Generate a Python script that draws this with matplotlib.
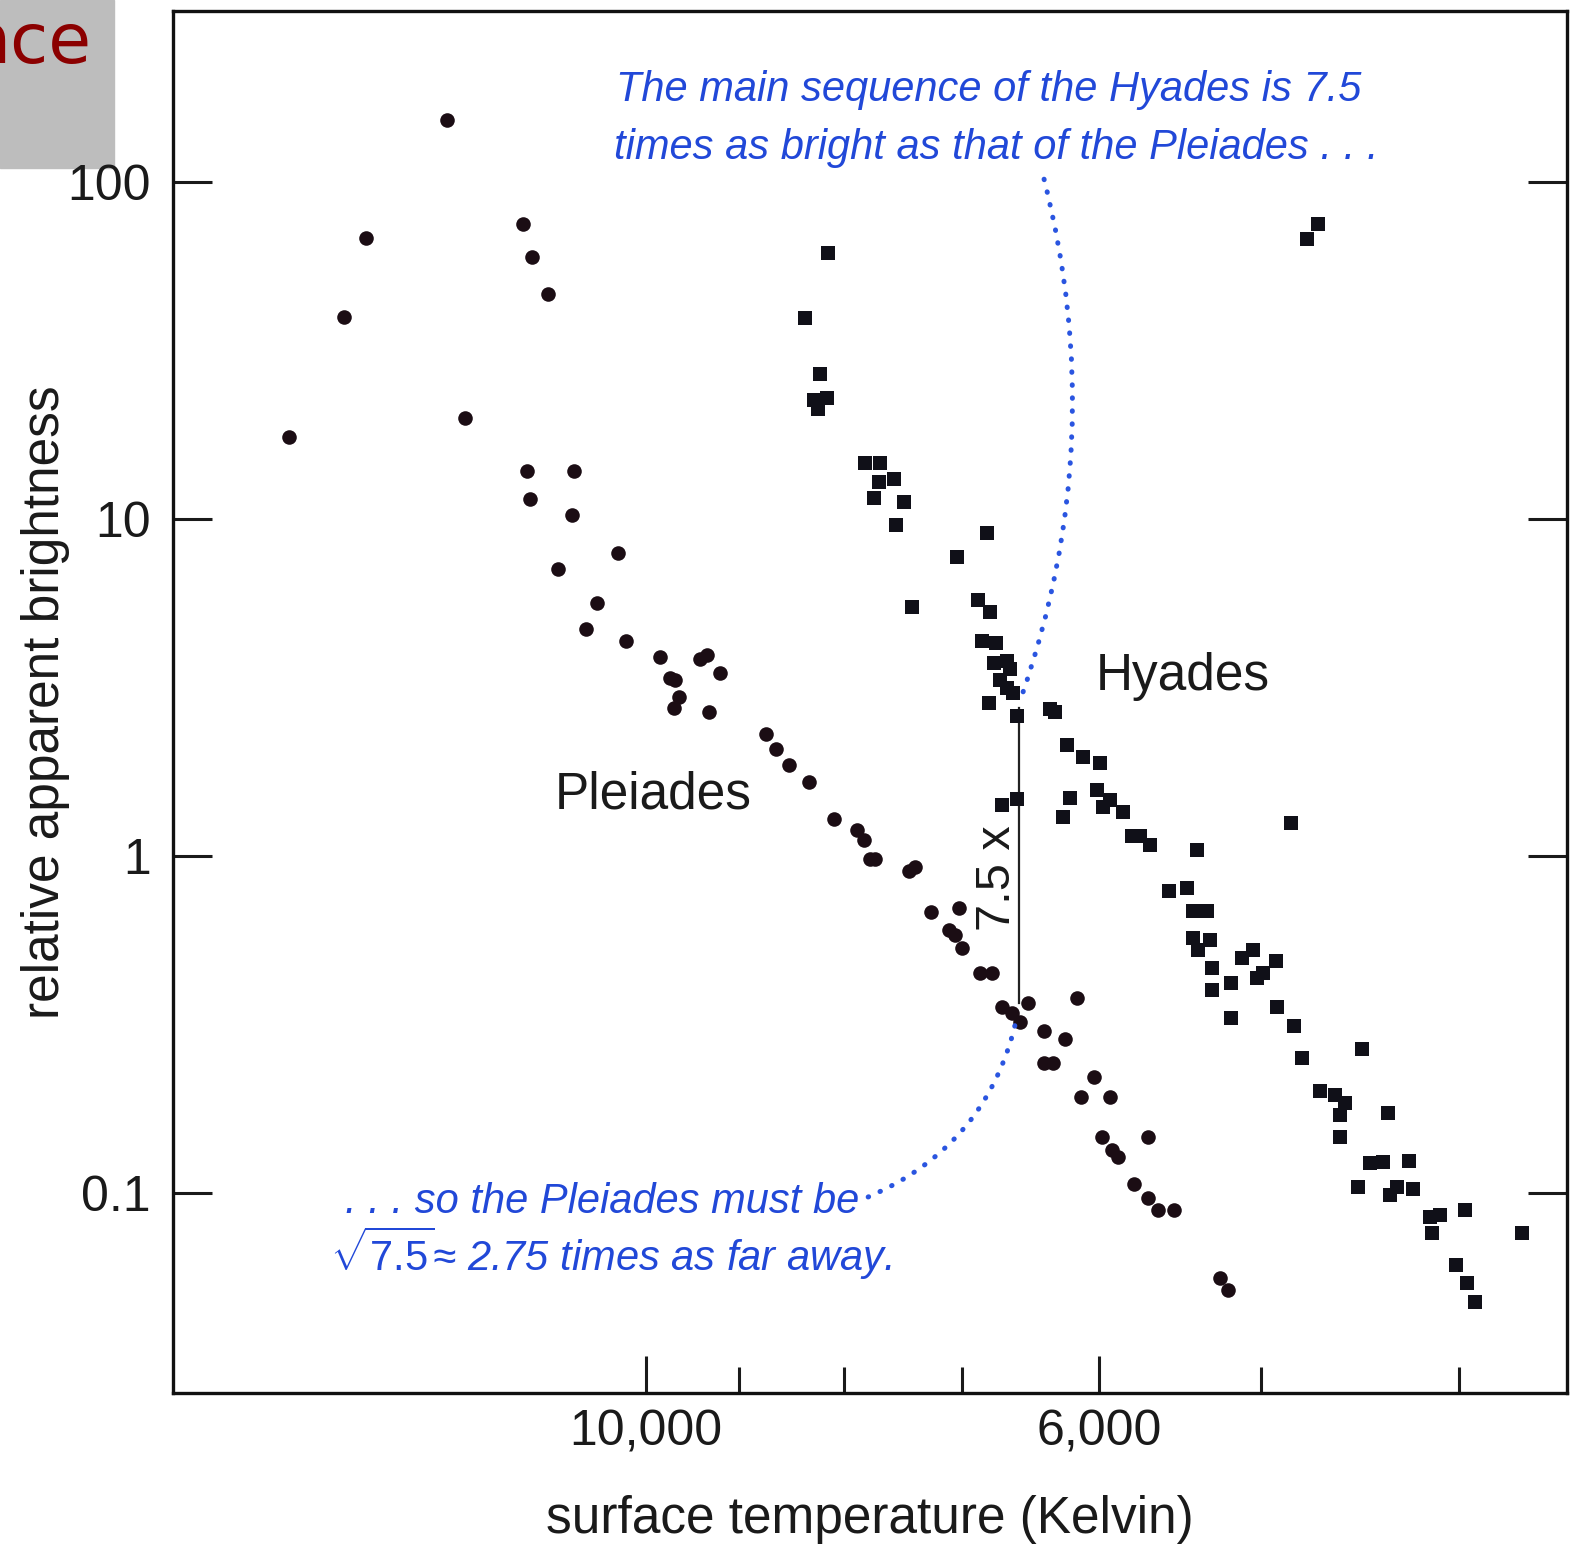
import matplotlib
matplotlib.use("Agg")
import matplotlib.pyplot as plt
from matplotlib import font_manager
from matplotlib.patches import FancyArrowPatch, Rectangle
from matplotlib.ticker import NullFormatter, NullLocator

# Pleiades stars (round dots): surface temperature (K), relative apparent brightness
pleiades_temp = [12510, 13700, 14050, 14940, 12260, 11480, 11370, 11160, 11430, 10840,
                 11390, 10870, 10320, 11040, 10570, 10700, 10230, 9846, 9405, 9335,
                 9196, 9728, 9673, 9637, 9692, 9310, 8734, 8633, 8514, 8318,
                 8093, 7883, 7825, 7766, 7722, 7438, 7382, 7250, 7031, 7110,
                 7057, 7004, 6861, 6771, 6696, 6621, 6559, 6498, 6153, 6389,
                 6235, 6389, 6318, 6034, 6125, 5931, 5982, 5915, 5872, 5677,
                 5773, 5677, 5613, 5515, 5236, 5188]
pleiades_bright = [152.8, 68.1, 39.7, 17.48, 19.98, 75.1, 59.8, 46.5, 13.88, 13.91,
                   11.47, 10.27, 7.94, 7.09, 5.62, 4.72, 4.345, 3.90, 3.835, 3.95,
                   3.50, 3.37, 3.33, 2.97, 2.744, 2.68, 2.297, 2.082, 1.862, 1.662,
                   1.285, 1.194, 1.116, 0.978, 0.978, 0.904, 0.929, 0.681, 0.700, 0.603,
                   0.583, 0.532, 0.4505, 0.4505, 0.357, 0.3413, 0.3224, 0.367, 0.378, 0.3025,
                   0.2864, 0.2426, 0.2426, 0.2205, 0.1931, 0.1931, 0.1469, 0.1341, 0.1281, 0.1469,
                   0.1063, 0.0965, 0.0891, 0.0891, 0.0558, 0.0516]

# Hyades stars (squares)
hyades_temp = [8148, 8362, 8216, 8278, 8153, 8237, 7810, 7679, 7688, 7565,
               7737, 7480, 7545, 6810, 7044, 7410, 6879, 6784, 6848, 6739,
               6759, 6658, 6633, 6708, 6658, 6611, 6797, 6583, 6341, 6306,
               6223, 6108, 5998, 6200, 6247, 6016, 5927, 5972, 5839, 6696,
               6583, 5784, 5730, 5666, 5376, 4836, 5550, 5433, 5396, 5315,
               5400, 5296, 5366, 5286, 5286, 5174, 5174, 5110, 5044, 5024,
               4987, 4916, 4912, 4821, 4776, 4461, 4679, 4600, 4549, 4574,
               4574, 4332, 4422, 4357, 4231, 4481, 4324, 4291, 4212, 4134,
               4087, 4126, 3974, 3727, 4014, 3966, 3932, 4748, 4689]
hyades_bright = [61.4, 39.4, 26.9, 22.55, 22.9, 21.16, 14.69, 14.69, 12.90, 13.14,
                 11.52, 11.25, 9.60, 9.07, 7.73, 5.47, 5.75, 5.31, 4.35, 4.28,
                 3.75, 3.80, 3.60, 3.33, 3.16, 3.045, 2.849, 2.599, 2.737, 2.668,
                 2.135, 1.971, 1.884, 1.483, 1.308, 1.570, 1.466, 1.395, 1.348, 1.417,
                 1.473, 1.147, 1.147, 1.078, 1.042, 1.256, 0.787, 0.802, 0.687, 0.687,
                 0.570, 0.563, 0.526, 0.464, 0.400, 0.4207, 0.3313, 0.497, 0.526, 0.4336,
                 0.4486, 0.488, 0.357, 0.3136, 0.2510, 0.2675, 0.2012, 0.1953, 0.1846, 0.1704,
                 0.1469, 0.1724, 0.1230, 0.1239, 0.1245, 0.1044, 0.0986, 0.1044, 0.1026, 0.0851,
                 0.0860, 0.0762, 0.0891, 0.0762, 0.0611, 0.0540, 0.0476, 67.8, 75.1]

y_ticks = [0.1, 1, 10, 100]
y_tick_labels = ["0.1", "1", "10", "100"]
x_major = [10000, 6000]
x_major_labels = ["10,000", "6,000"]
x_minor = [9000, 8000, 7000, 5000, 4000]

# the 7.5x gap between the two main sequences
gap_temp = 6570
gap_low, gap_high = 0.367, 2.75

names = {f.name for f in font_manager.fontManager.ttflist}
has_narrow = "Liberation Sans Narrow" in names
blue_font = "Liberation Sans Narrow" if has_narrow else "Liberation Sans"
blue_size = 37 if has_narrow else 30

plt.rcParams["font.family"] = ["Liberation Sans", "DejaVu Sans"]
plt.rcParams["mathtext.fontset"] = "custom"
plt.rcParams["mathtext.it"] = blue_font + ":italic"
plt.rcParams["mathtext.rm"] = blue_font

ink = "#1a1a1a"
blue = "#2148d8"

fig = plt.figure(figsize=(15.79, 15.46), dpi=100)
ax = fig.add_axes([0.1096, 0.0990, 0.8828, 0.8939])

ax.scatter(pleiades_temp, pleiades_bright, s=110, marker="o", color="#1b0d14",
           linewidths=0, zorder=3)
ax.scatter(hyades_temp, hyades_bright, s=88, marker="s", color="#101018",
           linewidths=0, zorder=3)

ax.set_xscale("log")
ax.set_yscale("log")
ax.set_xlim(17030, 3543)
ax.set_ylim(0.0255, 322)

ax.set_xticks(x_major, x_major_labels)
ax.set_xticks(x_minor, minor=True)
ax.xaxis.set_minor_formatter(NullFormatter())
ax.set_yticks(y_ticks, y_tick_labels)
ax.yaxis.set_minor_locator(NullLocator())

ax.tick_params(axis="x", which="major", direction="in", length=27, width=2.2,
               pad=12, labelsize=36, colors=ink, top=False)
ax.tick_params(axis="x", which="minor", direction="in", length=19, width=2.2,
               top=False, colors=ink)
ax.tick_params(axis="y", direction="in", length=28, width=2.2, pad=16,
               labelsize=36, left=True, right=True, colors=ink)
for sp in ax.spines.values():
    sp.set_linewidth(2.4)
    sp.set_color("#111111")

ax.set_xlabel("surface temperature (Kelvin)", fontsize=37, color=ink)
ax.set_ylabel("relative apparent brightness", fontsize=37, color=ink)
ax.xaxis.set_label_coords(0.5, -0.074)
ax.yaxis.set_label_coords(-0.074, 0.5)

# cluster labels
ax.text(6022, 3.11, "Hyades", fontsize=37, color=ink, ha="left", va="baseline")
ax.text(11084, 1.379, "Pleiades", fontsize=37, color=ink, ha="left", va="baseline")

# 7.5x bar
ax.plot([gap_temp, gap_temp], [gap_low, gap_high], color="#222222", lw=1.6, zorder=2)
ax.text(6732, 0.86, "7.5 x", fontsize=35, color=ink, rotation=90,
        ha="center", va="center")

# blue commentary
ax.text(0.3178, 0.9349, "The main sequence of the Hyades is 7.5", transform=ax.transAxes,
        fontsize=blue_size, family=blue_font, style="italic", color=blue, va="baseline")
ax.text(0.3164, 0.8929, "times as bright as that of the Pleiades . . .", transform=ax.transAxes,
        fontsize=blue_size, family=blue_font, style="italic", color=blue, va="baseline")
ax.text(0.1234, 0.1302, ". . . so the Pleiades must be", transform=ax.transAxes,
        fontsize=blue_size, family=blue_font, style="italic", color=blue, va="baseline")
ax.text(0.1126, 0.0883, r"$\sqrt{\mathit{7.5}}$≈ 2.75 times as far away.", transform=ax.transAxes,
        fontsize=blue_size, family=blue_font, style="italic", color=blue, va="baseline")

# dotted leader curves
dotted = dict(arrowstyle="-", color="#2a55e0", lw=3.6, linestyle=(0, (0.1, 2.5)),
              capstyle="round", shrinkA=0, shrinkB=0, zorder=4)
ax.add_patch(FancyArrowPatch((6385, 102), (6546, 3.0),
                             connectionstyle="arc3,rad=-0.15", **dotted))
ax.add_patch(FancyArrowPatch((7784, 0.0973), (6580, 0.3375),
                             connectionstyle="arc3,rad=0.26", **dotted))

# leftover slide header in the corner
fig.add_artist(Rectangle((0, 1 - 168 / 1546), 114 / 1579, 168 / 1546,
                         transform=fig.transFigure, color="#bdbdbd", zorder=0))
fig.text(92 / 1579, 1 - 63 / 1546, "nce", fontsize=50, color="#8b0000",
         family="DejaVu Sans", ha="right", va="baseline")

fig.savefig("out.png", dpi=100, facecolor="white")
